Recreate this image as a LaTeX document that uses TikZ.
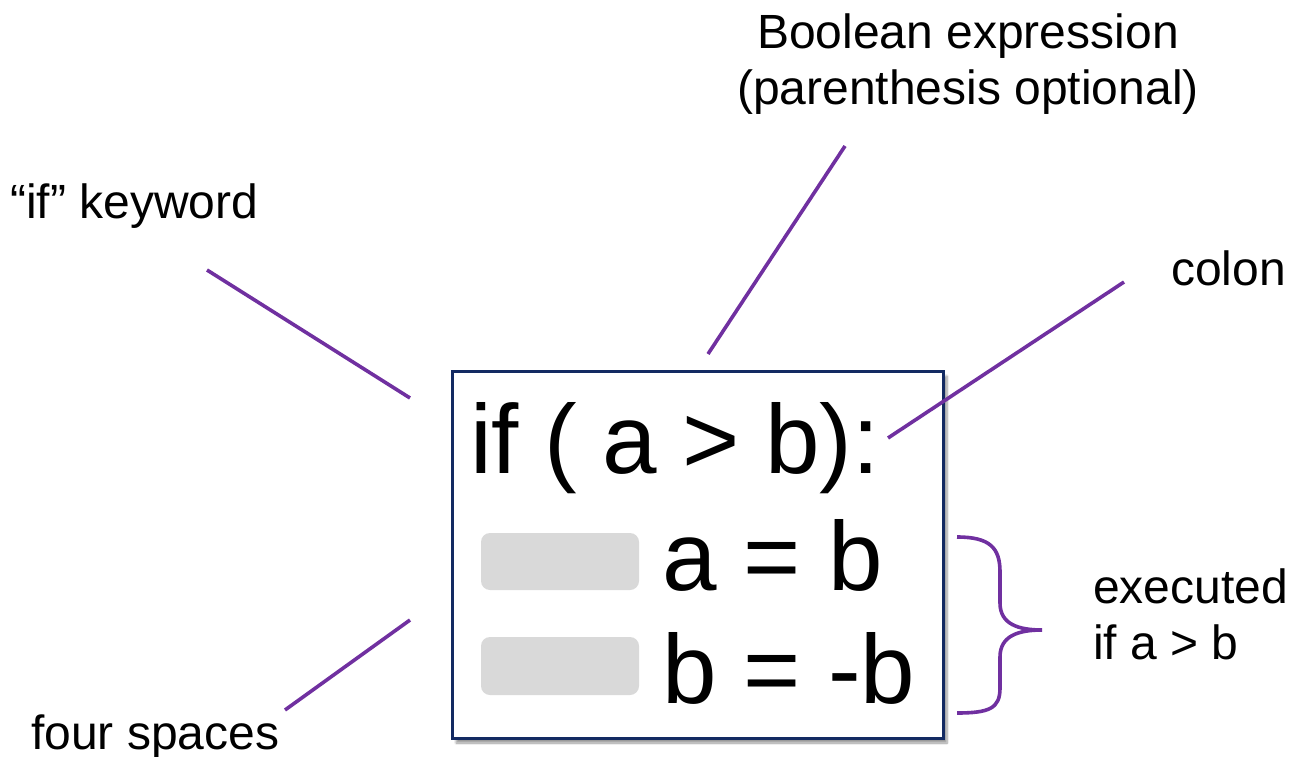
\documentclass[tikz,border=0pt]{standalone}
\usepackage{fontspec}
\setmainfont{Liberation Sans}
\usetikzlibrary{shadows.blur}
\definecolor{conn}{HTML}{7030A0}
\definecolor{boxline}{HTML}{132A62}
\definecolor{spacegray}{HTML}{D9D9D9}
\tikzset{
  label/.style={inner sep=0pt, font=\fontsize{48}{56}\selectfont},
  code/.style={inner sep=0pt, font=\fontsize{98}{110}\selectfont},
  connector/.style={draw=conn, line width=3.6pt},
  codebox/.style={draw=boxline, line width=3pt, fill=white, blur shadow={shadow xshift=4pt, shadow yshift=-5pt, shadow blur steps=8, shadow opacity=40}},
  spacebox/.style={fill=spacegray, rounded corners=9pt}
}
\begin{document}
\begin{tikzpicture}[x=1pt,y=-1pt]
\useasboundingbox (0,0) rectangle (1290,757);
% code box
\draw[codebox] (452,371) rectangle (943,738);
\fill[spacebox] (481,533) rectangle (639,590);
\fill[spacebox] (481,637) rectangle (639,695);
\node[code, anchor=base west] (l1) at (470,473) {\spaceskip=0.26em\relax if ( a > b):};
\node[code, anchor=base west] (l2) at (662,590) {a = b};
\node[code, anchor=base west] (l3) at (662,703) {b = -b};
% labels
\node[label, anchor=base west] (kw) at (10,218) {“if” keyword};
\node[label, anchor=base] (bool1) at (968,49) {Boolean expression};
\node[label, anchor=base] (bool2) at (968,105) {(parenthesis optional)};
\node[label, anchor=base east] (colon) at (1286,285) {colon};
\node[label, anchor=base west] (exe1) at (1093,603) {executed};
\node[label, anchor=base west] (exe2) at (1093,659) {if a > b};
\node[label, anchor=base west] (four) at (31,749) {four spaces};
% connector ends
\coordinate (kwA) at (207,270); \coordinate (kwB) at (410,398);
\coordinate (boA) at (845,146); \coordinate (boB) at (708,354);
\coordinate (coA) at (1124,282); \coordinate (coB) at (888,438);
\coordinate (fsA) at (410,620); \coordinate (fsB) at (285,710);
\draw[connector] (kwA) -- (kwB);
\draw[connector] (boA) -- (boB);
\draw[connector] (coA) -- (coB);
\draw[connector] (fsA) -- (fsB);
% brace
\coordinate (brTop) at (957,537);
\coordinate (brTip) at (1042,630);
\coordinate (brBot) at (957,713);
\draw[connector] (brTop) .. controls (990,537) and (1000,548) .. (1000,572) -- (1000,603) .. controls (1000,624) and (1018,630) .. (brTip) .. controls (1018,630) and (1000,636) .. (1000,657) -- (1000,688) .. controls (1000,708) and (990,713) .. (brBot);
\end{tikzpicture}
\end{document}
